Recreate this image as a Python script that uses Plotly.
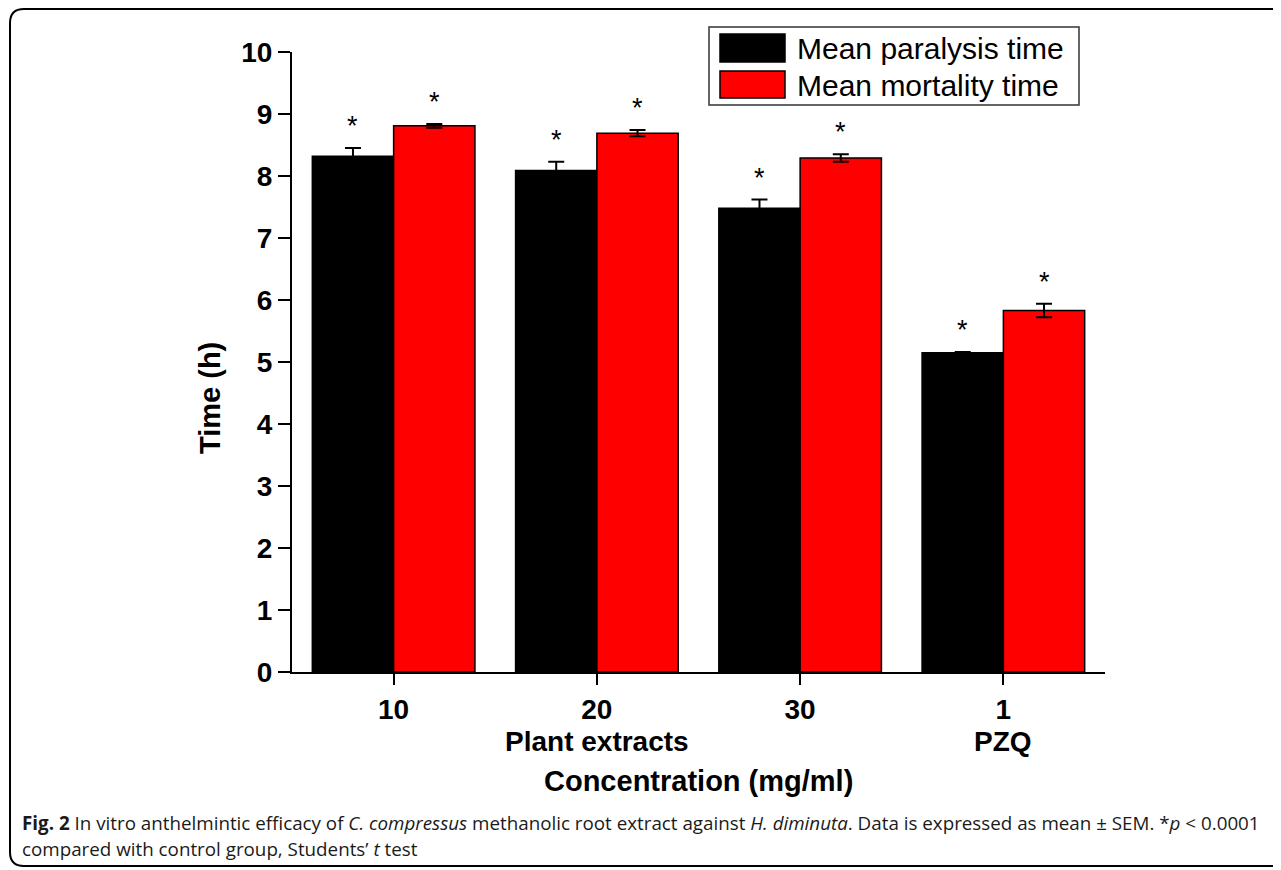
import plotly.graph_objects as go

categories = ["10", "20", "30", "1"]
paralysis = [8.32, 8.09, 7.48, 5.15]
paralysis_err = [0.13, 0.14, 0.14, 0.01]
mortality = [8.81, 8.69, 8.29, 5.83]
mortality_err = [0.03, 0.05, 0.06, 0.11]
series_names = ["Mean paralysis time", "Mean mortality time"]
group_labels = ["Plant extracts", "PZQ"]

OFF = 8  # page body margin
W, H = 1281 - OFF, 870 - OFF
# plot area in reference-picture pixels
L, R, T, B = 292, 1105, 52, 672
pw, ph = R - L, B - T

def px(x):
    return (x - L) / pw

def py(y):
    return (B - y) / ph

FONT = "Liberation Sans, Arial, sans-serif"

fig = go.Figure()
fig.add_trace(go.Bar(
    x=categories, y=paralysis, name=series_names[0],
    marker=dict(color="#000000", line=dict(color="#000000", width=1.5)),
    error_y=dict(type="data", array=paralysis_err, visible=True, color="#000000", thickness=2, width=8),
    showlegend=False,
))
fig.add_trace(go.Bar(
    x=categories, y=mortality, name=series_names[1],
    marker=dict(color="#ff0000", line=dict(color="#000000", width=1.5)),
    error_y=dict(type="data", array=mortality_err, visible=True, color="#000000", thickness=2, width=8),
    showlegend=False,
))

annotations = []
# significance stars
for i, c in enumerate(categories):
    for off, vals, errs in ((-0.2, paralysis, paralysis_err), (0.2, mortality, mortality_err)):
        annotations.append(dict(
            x=i + off, y=vals[i] + errs[i], xref="x", yref="y",
            text="*", showarrow=False, yanchor="middle", yshift=22,
            font=dict(family=FONT, size=27, color="#000000"),
        ))

# group labels under ticks
for xi, lab in ((1, group_labels[0]), (3, group_labels[1])):
    annotations.append(dict(x=xi, y=py(742), xref="x", yref="paper", text=lab,
                            showarrow=False, yanchor="middle",
                            font=dict(family=FONT, size=28, color="#000000", weight="bold")))

# axis titles
annotations.append(dict(x=px((L + R) / 2), y=py(781), xref="paper", yref="paper",
                        text="Concentration (mg/ml)", showarrow=False, yanchor="middle",
                        font=dict(family=FONT, size=29, color="#000000", weight="bold")))
annotations.append(dict(x=px(210), y=py(398), xref="paper", yref="paper",
                        text="Time (h)", showarrow=False, textangle=-90,
                        xanchor="center", yanchor="middle",
                        font=dict(family=FONT, size=29, color="#000000", weight="bold")))

# legend (drawn manually for large swatches)
shapes = [
    dict(type="rect", xref="paper", yref="paper", x0=px(709), x1=px(1079), y0=py(105), y1=py(27),
         line=dict(color="#333333", width=1.5), fillcolor="white", layer="above"),
    dict(type="rect", xref="paper", yref="paper", x0=px(720), x1=px(785), y0=py(62), y1=py(34),
         line=dict(color="#000000", width=1.5), fillcolor="#000000", layer="above"),
    dict(type="rect", xref="paper", yref="paper", x0=px(720), x1=px(785), y0=py(98), y1=py(71),
         line=dict(color="#000000", width=1.5), fillcolor="#ff0000", layer="above"),
]
annotations.append(dict(x=px(795), y=py(49), xref="paper", yref="paper", text=series_names[0],
                        showarrow=False, xanchor="left", yanchor="middle",
                        font=dict(family=FONT, size=30, color="#000000")))
annotations.append(dict(x=px(795), y=py(85), xref="paper", yref="paper", text=series_names[1],
                        showarrow=False, xanchor="left", yanchor="middle",
                        font=dict(family=FONT, size=30, color="#000000")))

# outer frame with rounded left corners
x0, y0, x1, y1, r = 10, 9, 1300, 866, 14
path = (f"M {px(x1)},{py(y0)} L {px(x0 + r)},{py(y0)} "
        f"Q {px(x0)},{py(y0)} {px(x0)},{py(y0 + r)} "
        f"L {px(x0)},{py(y1 - r)} Q {px(x0)},{py(y1)} {px(x0 + r)},{py(y1)} "
        f"L {px(x1)},{py(y1)}")
shapes.append(dict(type="path", xref="paper", yref="paper", path=path,
                   line=dict(color="#000000", width=2)))

# caption
CAP = "Open Sans, Noto Sans, sans-serif"
annotations.append(dict(
    x=px(20), y=py(823), xref="paper", yref="paper", xanchor="left", yanchor="middle",
    showarrow=False, align="left",
    text=("<b>Fig. 2</b> In vitro anthelmintic efficacy of <i>C. compressus</i> methanolic root extract "
          "against <i>H. diminuta</i>. Data is expressed as mean ± SEM. *<i>p</i> &lt; 0.0001"),
    font=dict(family=CAP, size=18.8, color="#1a1a1a"),
))
annotations.append(dict(
    x=px(20), y=py(849), xref="paper", yref="paper", xanchor="left", yanchor="middle",
    showarrow=False, align="left",
    text="compared with control group, Students’ <i>t</i> test",
    font=dict(family=CAP, size=18.8, color="#1a1a1a"),
))

fig.update_layout(
    width=W, height=H,
    margin=dict(l=L - OFF, r=W - (R - OFF), t=T - OFF, b=H - (B - OFF), autoexpand=False),
    paper_bgcolor="white", plot_bgcolor="white",
    barmode="group", bargap=0.2, bargroupgap=0,
    showlegend=False,
    annotations=annotations, shapes=shapes,
    xaxis=dict(
        type="category", range=[-0.5, 3.5],
        showline=True, linecolor="#000000", linewidth=2, mirror=False,
        ticks="outside", ticklen=11, tickwidth=2, tickcolor="#000000",
        tickfont=dict(family=FONT, size=28, color="#000000", weight="bold"),
        showgrid=False, zeroline=False,
    ),
    yaxis=dict(
        range=[0, 10], dtick=1,
        showline=True, linecolor="#000000", linewidth=2,
        ticks="outside", ticklen=12, tickwidth=2, tickcolor="#000000",
        tickfont=dict(family=FONT, size=28, color="#000000", weight="bold"),
        showgrid=False, zeroline=False,
    ),
)

fig.write_html("out.html")
